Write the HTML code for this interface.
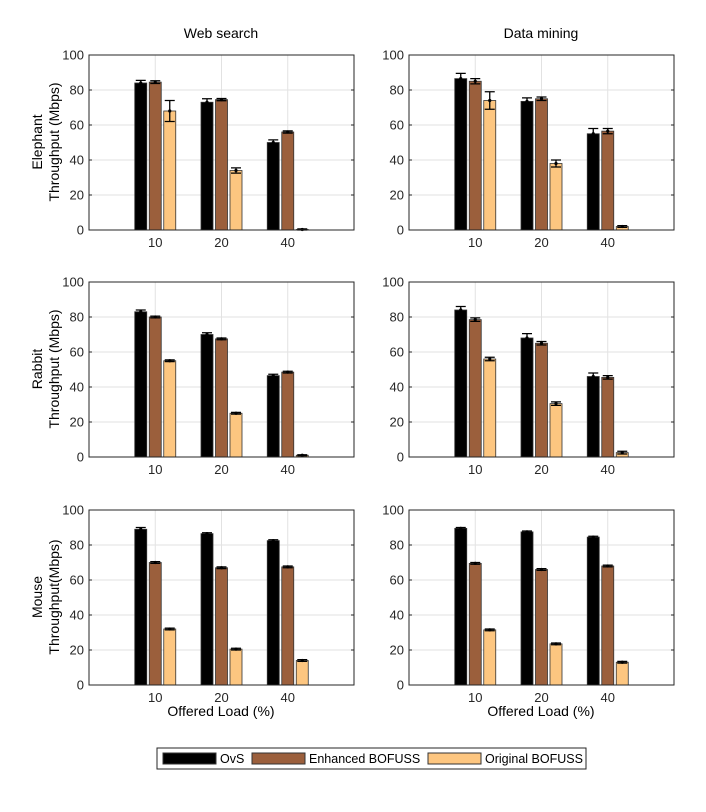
<!DOCTYPE html>
<html><head><meta charset="utf-8"><style>
body{margin:0;background:#fff;font-family:"Liberation Sans",Arial,sans-serif}
svg text{font-family:"Liberation Sans",Arial,sans-serif}
</style></head><body>
<svg id="c" width="706" height="807" viewBox="0 0 706 807"></svg>
<script>
const categories=["10","20","40"];
const seriesNames=["OvS","Enhanced BOFUSS","Original BOFUSS"];
const yTicks=[0,20,40,60,80,100];
const wsElephant=[[84,73,50],[84.5,74.5,56],[68,34,0.3]];
const wsElephantErr=[[1.5,2,1.5],[0.8,0.6,0.6],[6,1.5,0.3]];
const dmElephant=[[86.5,73.5,55],[85,75,56.5],[74,38,2]];
const dmElephantErr=[[3,2,3],[1.5,1,1.5],[5,2,0.5]];
const wsRabbit=[[83,70,46.5],[80,67.5,48.5],[55,25,1]];
const wsRabbitErr=[[1,1,0.8],[0.5,0.5,0.5],[0.5,0.5,0.3]];
const dmRabbit=[[84,68,46],[78.5,65,45.5],[56,30.5,2.5]];
const dmRabbitErr=[[2,2.5,2],[1,1,1],[1,1,0.8]];
const wsMouse=[[89,86.5,82.5],[70,67,67.5],[32,20.5,14]];
const wsMouseErr=[[1,0.5,0.5],[0.5,0.5,0.5],[0.5,0.5,0.5]];
const dmMouse=[[89.5,87.5,84.5],[69.5,66,68],[31.5,23.5,13]];
const dmMouseErr=[[0.5,0.5,0.5],[0.5,0.5,0.5],[0.5,0.5,0.5]];
const colors=["#000000","#9b5f3c","#fdc680"];
const NS="http://www.w3.org/2000/svg";
const svg=document.getElementById('c');
function mk(t,a,p){const e=document.createElementNS(NS,t);for(const k in a)e.setAttribute(k,a[k]);(p||svg).appendChild(e);return e;}
function panel(x0,y0,vals,errs,name){
  const w=265,h=175;
  const g=mk('g',{});
  
  
  const xs=i=>x0+(i+1)*w/4;
  const ys=v=>y0+h-v/100*h;
  mk('rect',{x:x0,y:y0,width:w,height:h,fill:'#fff'},g);
  yTicks.forEach(t=>{const l=mk('line',{x1:x0,x2:x0+w,y1:ys(t),y2:ys(t),stroke:'#e2e2e2','stroke-width':1},g);
    
    const tx=mk('text',{x:x0-5,y:ys(t)+4.5,'text-anchor':'end','font-size':13,fill:'#262626'},g);tx.textContent=t;
    });
  categories.forEach((c,i)=>{mk('line',{x1:xs(i),x2:xs(i),y1:y0,y2:y0+h,stroke:'#e2e2e2'},g);
    const tx=mk('text',{x:xs(i),y:y0+h+17,'text-anchor':'middle','font-size':13,fill:'#262626'},g);tx.textContent=c;
    });
  const off=[-14.5,0,14.5],bw=12;
  vals.forEach((s,si)=>s.forEach((v,i)=>{
    const cx=xs(i)+off[si];
    const r=mk('rect',{x:cx-bw/2,y:ys(v),width:bw,height:ys(0)-ys(v),fill:colors[si],stroke:'#333','stroke-width':0.8},g);
    
    
    const e=errs[si][i];
    mk('path',{d:`M${cx} ${ys(v+e)}V${ys(Math.max(0,v-e))}M${cx-5} ${ys(v+e)}h10M${cx-5} ${ys(Math.max(0,v-e))}h10`,stroke:'#000','stroke-width':1.3,fill:'none'},g);
    mk('circle',{cx:cx,cy:ys(v),r:1.6,fill:'#000'},g);
  }));
  mk('rect',{x:x0,y:y0,width:w,height:h,fill:'none',stroke:'#262626','stroke-width':1},g);
  yTicks.forEach(t=>{mk('line',{x1:x0,x2:x0+3,y1:ys(t),y2:ys(t),stroke:'#262626'},g);mk('line',{x1:x0+w-3,x2:x0+w,y1:ys(t),y2:ys(t),stroke:'#262626'},g);});
}
const X=[89,409],Y=[55,282,510];
panel(X[0],Y[0],wsElephant,wsElephantErr,'web-search-elephant-panel');
panel(X[1],Y[0],dmElephant,dmElephantErr,'data-mining-elephant-panel');
panel(X[0],Y[1],wsRabbit,wsRabbitErr,'web-search-rabbit-panel');
panel(X[1],Y[1],dmRabbit,dmRabbitErr,'data-mining-rabbit-panel');
panel(X[0],Y[2],wsMouse,wsMouseErr,'web-search-mouse-panel');
panel(X[1],Y[2],dmMouse,dmMouseErr,'data-mining-mouse-panel');
function txt(s,x,y,name,rot,size){const t=mk('text',{x:x,y:y,'text-anchor':'middle','font-size':size||14,fill:'#000'});
  if(rot)t.setAttribute('transform',`rotate(-90 ${x} ${y})`);t.textContent=s;
  return t;}
txt('Web search',221,38,'web-search-title');
txt('Data mining',541,38,'data-mining-title');
const yl=[['Elephant','Throughput (Mbps)'],['Rabbit','Throughput (Mbps)'],['Mouse','Throughput(Mbps)']];
yl.forEach((l,i)=>{const cy=Y[i]+87;txt(l[0],42,cy,'y-axis-title',true);txt(l[1],59,cy,'y-axis-title',true);});
txt('Offered Load (%)',221,716,'x-axis-title');
txt('Offered Load (%)',541,716,'x-axis-title');
const lg=mk('g',{});
mk('rect',{x:157,y:748,width:429,height:21,fill:'#fff',stroke:'#262626'},lg);
const lx=[163,252,428];
seriesNames.forEach((n,i)=>{const e=mk('g',{},lg);
  mk('rect',{x:lx[i],y:753,width:53,height:11,fill:colors[i],stroke:'#333'},e);
  const t=mk('text',{x:lx[i]+57,y:763,'font-size':12.5,fill:'#000'},e);t.textContent=n;});
</script>
</body></html>
